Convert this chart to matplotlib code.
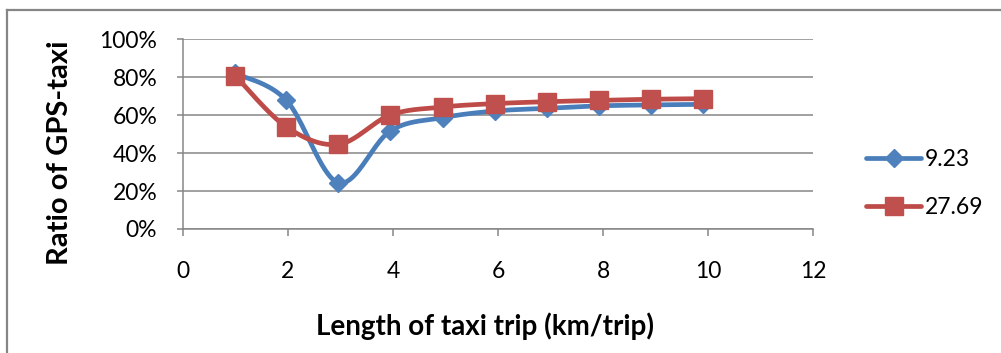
import numpy as np
import matplotlib
matplotlib.use("Agg")
import matplotlib.pyplot as plt
from matplotlib.lines import Line2D
from matplotlib.ticker import PercentFormatter

plt.rcParams["font.family"] = ["Lato", "DejaVu Sans"]

# Average trip length per bin (km/trip)
trip_length = [1.0, 1.97, 2.96, 3.95, 4.95, 5.94, 6.93, 7.92, 8.91, 9.91]
# Ratio of GPS-taxi (%) for the two series
ratio_923 = [82.0, 67.8, 24.4, 51.7, 58.7, 62.2, 63.6, 64.9, 65.4, 65.7]
ratio_2769 = [80.7, 53.8, 44.6, 60.1, 64.3, 66.1, 67.1, 67.8, 68.4, 68.7]
series_labels = ["9.23", "27.69"]

x_ticks = [0, 2, 4, 6, 8, 10, 12]
y_ticks = [0, 20, 40, 60, 80, 100]

BLUE_LINE, BLUE_MARK = "#4A7EBB", "#4F81BD"
RED_LINE, RED_MARK = "#BE4B48", "#C0504D"
GRID = "#868686"


def smooth(xs, ys, n=40):
    """Bezier smoothing through every point (Catmull-Rom style control points)."""
    p = np.column_stack([xs, ys]).astype(float)
    ext = np.vstack([p[0], p, p[-1]])
    out = []
    t = np.linspace(0, 1, n)[:, None]
    for i in range(len(p) - 1):
        p0, p1, p2, p3 = ext[i], ext[i + 1], ext[i + 2], ext[i + 3]
        b1 = p1 + (p2 - p0) / 6.0
        b2 = p2 - (p3 - p1) / 6.0
        seg = ((1 - t) ** 3) * p1 + 3 * ((1 - t) ** 2) * t * b1 + 3 * (1 - t) * t ** 2 * b2 + t ** 3 * p2
        out.append(seg if i == 0 else seg[1:])
    c = np.vstack(out)
    return c[:, 0], c[:, 1]


fig = plt.figure(figsize=(10.01, 3.53), dpi=100)
ax = fig.add_axes([0.1828, 0.3513, 0.6294, 0.5374])

# Outer chart border
fig.add_artist(Line2D([7 / 1001, 7 / 1001], [0, 1 - 10 / 353], transform=fig.transFigure,
                      color=GRID, lw=1.6))
fig.add_artist(Line2D([7 / 1001, 1.0], [1 - 10 / 353, 1 - 10 / 353], transform=fig.transFigure,
                      color=GRID, lw=1.6))

ax.set_xlim(0, 12)
ax.set_ylim(0, 100)
ax.set_xticks(x_ticks)
ax.set_yticks(y_ticks)
ax.yaxis.set_major_formatter(PercentFormatter(decimals=0))
ax.grid(axis="y", color=GRID, lw=1.1)
ax.set_axisbelow(True)

for side in ("top", "right"):
    ax.spines[side].set_visible(False)
for side in ("left", "bottom"):
    ax.spines[side].set_color(GRID)
    ax.spines[side].set_linewidth(1.1)

ax.tick_params(axis="x", direction="out", length=5, width=1.1, color=GRID, pad=18,
               labelsize=16.5, labelcolor="black")
ax.tick_params(axis="y", direction="out", length=4.5, width=1.1, color=GRID, pad=14,
               labelsize=16.5, labelcolor="black")

for ys, lc, mc, mk, ms in [(ratio_923, BLUE_LINE, BLUE_MARK, "D", 9.5),
                           (ratio_2769, RED_LINE, RED_MARK, "s", 13.5)]:
    sx, sy = smooth(trip_length, ys)
    ax.plot(sx, sy, color=lc, lw=3.4, solid_capstyle="round", zorder=3)
    ax.plot(trip_length, ys, linestyle="none", marker=mk, ms=ms, color=mc,
            markeredgecolor=mc, zorder=4)

handles = [
    Line2D([], [], color=BLUE_LINE, lw=3.4, marker="D", ms=9.5, markerfacecolor=BLUE_MARK,
           markeredgecolor=BLUE_MARK, solid_capstyle="round"),
    Line2D([], [], color=RED_LINE, lw=3.4, marker="s", ms=13.5, markerfacecolor=RED_MARK,
           markeredgecolor=RED_MARK, solid_capstyle="round"),
]
fig.legend(handles, series_labels, loc="center left", bbox_to_anchor=(866 / 1001, 1 - 183.5 / 353),
           frameon=False, fontsize=16.5, handlelength=2.4, handletextpad=0.15,
           labelspacing=1.2, borderpad=0, borderaxespad=0)

fig.text(60 / 1001, 1 - 153 / 353, "Ratio of GPS-taxi", rotation=90, ha="center", va="center",
         fontsize=21, fontweight="bold")
fig.text(485 / 1001, 18 / 353, "Length of taxi trip (km/trip)", ha="center", va="baseline",
         fontsize=20, fontweight="bold")

fig.savefig("out.png", dpi=100, facecolor="white")
